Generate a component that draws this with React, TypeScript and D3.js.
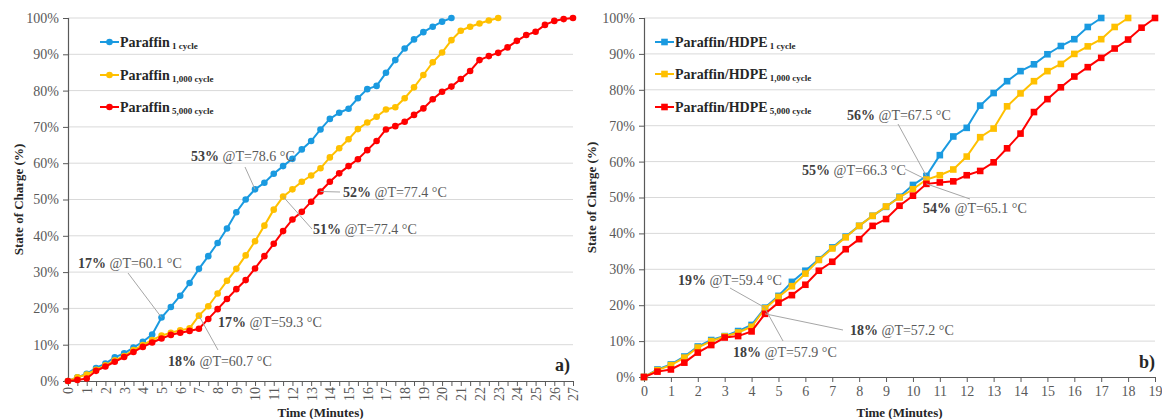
import React, { useEffect, useRef } from 'react';
import * as d3 from 'd3';

// minutes between two readings (category axis step)
const STEP = 0.5;

// ---- panel a) paraffin, state of charge (%) every 0.5 min ----
const paraffin1: number[] = [
  0, 1.0, 2.0, 3.6, 4.8, 6.5, 7.6, 9.2, 10.8, 12.8, 17.5, 20.4, 23.5, 27.0, 30.9, 34.4, 38.0, 42.0,
  46.5, 50.0, 52.8, 54.6, 57.1, 59.2, 61.2, 63.8, 66.1, 69.3, 72.2, 73.9, 75.0, 77.9, 80.4, 81.3,
  84.9, 88.4, 91.6, 94.1, 96.1, 97.6, 99.0, 100
];
const paraffin1000: number[] = [
  0, 1.0, 1.8, 3.1, 4.3, 5.7, 6.9, 8.5, 9.9, 11.3, 12.5, 13.3, 14.0, 14.5, 18.0, 20.6, 24.1, 27.6,
  30.9, 34.6, 38.5, 42.8, 47.2, 50.8, 52.8, 54.9, 56.6, 58.6, 61.6, 64.1, 66.6, 69.4, 71.2, 72.8,
  74.8, 75.4, 77.9, 80.9, 84.3, 87.8, 90.5, 93.9, 96.5, 97.6, 98.5, 99.3, 100
];
const paraffin5000: number[] = [
  0, 0.3, 0.7, 2.8, 4.0, 5.3, 6.6, 8.0, 9.4, 10.6, 11.7, 12.7, 13.3, 13.8, 14.4, 17.1, 19.8, 22.6,
  25.3, 27.8, 31.0, 34.4, 37.8, 41.3, 44.5, 46.6, 49.4, 52.2, 54.9, 57.2, 59.2, 61.1, 63.6, 66.1,
  69.3, 70.2, 71.4, 73.3, 75.1, 77.6, 79.7, 81.1, 83.2, 85.4, 88.4, 89.5, 90.4, 91.9, 93.7, 95.3,
  96.2, 98.1, 99.2, 99.7, 100
];

// ---- panel b) paraffin/HDPE ----
const hdpe1: number[] = [
  0, 2.1, 3.5, 5.7, 8.5, 10.3, 11.4, 12.8, 14.5, 19.3, 22.6, 26.5, 29.6, 32.8, 36.1, 39.1, 42.1,
  44.9, 47.4, 50.2, 53.5, 56.0, 61.8, 67.0, 69.4, 75.6, 79.1, 82.4, 85.2, 87.1, 89.9, 92.2, 94.1,
  97.5, 100
];
const hdpe1000: number[] = [
  0, 1.9, 3.3, 5.4, 8.2, 10.0, 11.3, 12.4, 14.0, 19.1, 22.3, 25.3, 28.8, 32.6, 35.8, 38.9, 42.1,
  44.9, 47.5, 50.0, 52.3, 55.0, 56.2, 57.8, 61.4, 66.8, 69.2, 75.4, 79.0, 82.4, 85.2, 87.2, 90.0,
  92.1, 94.1, 97.5, 100
];
const hdpe5000: number[] = [
  0, 1.5, 2.1, 4.0, 6.8, 8.9, 11.0, 11.4, 12.7, 17.6, 20.7, 22.8, 25.7, 29.6, 32.1, 35.6, 38.4,
  42.1, 44.0, 47.7, 50.5, 53.8, 54.2, 54.5, 56.2, 57.4, 59.8, 63.7, 67.8, 73.8, 77.4, 80.7, 83.7,
  86.3, 88.9, 91.5, 94.0, 97.3, 100
];

const cycleLabels = ['1 cycle', '1,000 cycle', '5,000 cycle'];
const yTicks = [0, 10, 20, 30, 40, 50, 60, 70, 80, 90, 100];

// annotations: [series index, point index, bold part, rest]
const annotationsA: [number, number, string, string][] = [
  [0, 20, '53%', ' @T=78.6 °C'],
  [2, 27, '52%', ' @T=77.4 °C'],
  [1, 23, '51%', ' @T=77.4 °C'],
  [0, 10, '17%', ' @T=60.1 °C'],
  [2, 14, '17%', ' @T=59.3 °C'],
  [1, 14, '18%', ' @T=60.7 °C']
];
const annotationsB: [number, number, string, string][] = [
  [0, 21, '56%', ' @T=67.5 °C'],
  [1, 21, '55%', ' @T=66.3 °C'],
  [2, 21, '54%', ' @T=65.1 °C'],
  [0, 9, '19%', ' @T=59.4 °C'],
  [2, 9, '18%', ' @T=57.2 °C'],
  [1, 9, '18%', ' @T=57.9 °C']
];

const COLORS = ['#1a9ae0', '#ffc000', '#ff0000'];
const FONT = '"Liberation Serif", "Times New Roman", serif';
const AXIS = '#595959';

interface PanelCfg {
  name: string;
  series: number[][];
  x0: number;
  x1: number;
  yTop: number;
  yBottom: number;
  xMax: number;
  rotated: boolean;
  square: boolean;
  legendX: number;
  legendY: number[];
  annotations: [number, number, string, string][];
  // label text start (x, baseline) and leader start, per annotation
  labelPos: ([number, number, number, number] | [number, number])[];
  tag: string;
  tagPos: [number, number];
  yTitleX: number;
}

const panels: PanelCfg[] = [
  {
    name: 'Paraffin',
    series: [paraffin1, paraffin1000, paraffin5000],
    x0: 68, x1: 573, yTop: 18, yBottom: 381, xMax: 27,
    rotated: true, square: false,
    legendX: 100, legendY: [42, 75, 107],
    annotations: annotationsA,
    labelPos: [
      [191, 161, 245, 167],
      [343, 197, 340, 192],
      [313, 234, 312, 229],
      [78, 268, 128, 273],
      [218, 327],
      [168, 366, 218, 350]
    ],
    tag: 'a)', tagPos: [555, 371], yTitleX: 18
  },
  {
    name: 'Paraffin/HDPE',
    series: [hdpe1, hdpe1000, hdpe5000],
    x0: 644, x1: 1155, yTop: 18, yBottom: 377, xMax: 19,
    rotated: false, square: true,
    legendX: 655, legendY: [42, 74, 107],
    annotations: annotationsB,
    labelPos: [
      [847, 120, 898, 124],
      [802, 175, 905, 169],
      [923, 213, 970, 199],
      [678, 285, 730, 288],
      [850, 335, 843, 330],
      [733, 357, 783, 341]
    ],
    tag: 'b)', tagPos: [1139, 368], yTitleX: 591
  }
];

export default function App() {
  const svgRef = useRef<SVGSVGElement>(null);

  useEffect(() => {
    if (!svgRef.current) return;
    const svg = d3.select(svgRef.current);
    svg.selectAll('*').remove();
    svg.style('font-family', FONT);

    panels.forEach(p => {
      const x = d3.scaleLinear().domain([0, p.xMax]).range([p.x0, p.x1]);
      const y = d3.scaleLinear().domain([0, 100]).range([p.yBottom, p.yTop]);
      const g = svg.append('g');

      // gridlines
      g.selectAll('.grid')
        .data(yTicks.filter(d => d > 0))
        .enter()
        .append('line')
        .attr('x1', p.x0)
        .attr('x2', p.x1)
        .attr('y1', d => y(d))
        .attr('y2', d => y(d))
        .attr('stroke', '#d9d9d9')
        .attr('stroke-width', 1);

      // y axis
      const yAxis = g.append('g')
        .attr('transform', `translate(${p.x0},0)`)
        .call(d3.axisLeft(y).tickValues(yTicks).tickSize(5).tickPadding(4).tickFormat(d => `${d}%`));
      yAxis.select('.domain').attr('stroke', AXIS).attr('stroke-width', 1.2);
      yAxis.selectAll('.tick line').attr('stroke', AXIS);
      yAxis.selectAll('text')
        .attr('fill', AXIS)
        .style('font-size', '14px')
        .style('font-family', FONT);

      // x axis
      const xTickVals = p.rotated ? d3.range(0, p.xMax + STEP / 2, STEP) : d3.range(0, p.xMax + 1, 1);
      const xAxis = g.append('g')
        .attr('transform', `translate(0,${p.yBottom})`)
        .call(d3.axisBottom(x).tickValues(xTickVals).tickSize(5).tickSizeOuter(0)
          .tickFormat(d => (Number.isInteger(+d) ? `${d}` : '')));
      xAxis.select('.domain').attr('stroke', AXIS).attr('stroke-width', 1.2);
      xAxis.selectAll('.tick line').attr('stroke', AXIS);
      const xt = xAxis.selectAll('text')
        .attr('fill', AXIS)
        .style('font-size', '14px')
        .style('font-family', FONT);
      if (p.rotated) {
        xt.attr('transform', 'rotate(-90)')
          .attr('x', -6)
          .attr('y', 0)
          .attr('dy', '0.35em')
          .style('text-anchor', 'end');
      } else {
        xt.attr('y', 9);
      }

      // series
      const line = d3.line<number>()
        .x((_, i) => x(i * STEP))
        .y(d => y(d));

      p.series.forEach((vals, si) => {
        g.append('path')
          .datum(vals)
          .attr('d', line)
          .attr('fill', 'none')
          .attr('stroke', COLORS[si])
          .attr('stroke-width', 2);
        if (p.square) {
          g.selectAll(`.m${si}`)
            .data(vals)
            .enter()
            .append('rect')
            .attr('x', (_, i) => x(i * STEP) - 3.3)
            .attr('y', d => y(d) - 3.3)
            .attr('width', 6.6)
            .attr('height', 6.6)
            .attr('fill', COLORS[si]);
        } else {
          g.selectAll(`.m${si}`)
            .data(vals)
            .enter()
            .append('circle')
            .attr('cx', (_, i) => x(i * STEP))
            .attr('cy', d => y(d))
            .attr('r', 3.3)
            .attr('fill', COLORS[si]);
        }
      });

      // annotations
      p.annotations.forEach(([si, idx, bold, rest], k) => {
        const pos = p.labelPos[k];
        if (pos.length === 4) {
          g.append('line')
            .attr('x1', pos[2])
            .attr('y1', pos[3])
            .attr('x2', x(idx * STEP))
            .attr('y2', y(p.series[si][idx]))
            .attr('stroke', '#a6a6a6')
            .attr('stroke-width', 1);
        }
        const t = g.append('text')
          .attr('x', pos[0])
          .attr('y', pos[1])
          .style('font-size', '14px');
        t.append('tspan').attr('font-weight', 'bold').attr('fill', '#404040').text(bold);
        t.append('tspan').attr('fill', '#595959').text(rest);
      });

      // legend
      p.legendY.forEach((ly, si) => {
        const lx = p.legendX;
        g.append('line')
          .attr('x1', lx).attr('x2', lx + 19)
          .attr('y1', ly).attr('y2', ly)
          .attr('stroke', COLORS[si]).attr('stroke-width', 2);
        if (p.square) {
          g.append('rect')
            .attr('x', lx + 6.2).attr('y', ly - 3.3)
            .attr('width', 6.6).attr('height', 6.6)
            .attr('fill', COLORS[si]);
        } else {
          g.append('circle')
            .attr('cx', lx + 9.5).attr('cy', ly).attr('r', 3.3)
            .attr('fill', COLORS[si]);
        }
        const t = g.append('text')
          .attr('x', lx + 20)
          .attr('y', ly + 5)
          .attr('fill', '#262626')
          .attr('font-weight', 'bold');
        t.append('tspan').style('font-size', '14px').text(p.name);
        t.append('tspan').style('font-size', '9px').attr('dy', 2).text(` ${cycleLabels[si]}`);
      });

      // panel tag
      g.append('text')
        .attr('x', p.tagPos[0])
        .attr('y', p.tagPos[1])
        .attr('font-weight', 'bold')
        .attr('fill', '#262626')
        .style('font-size', '18px')
        .text(p.tag);

      // axis titles
      g.append('text')
        .attr('x', (p.x0 + p.x1) / 2)
        .attr('y', 417)
        .attr('text-anchor', 'middle')
        .attr('font-weight', 'bold')
        .attr('fill', '#262626')
        .style('font-size', '13px')
        .text('Time (Minutes)');
      g.append('text')
        .attr('transform', `translate(${p.yTitleX},${(p.yTop + p.yBottom) / 2}) rotate(-90)`)
        .attr('text-anchor', 'middle')
        .attr('dy', '0.35em')
        .attr('font-weight', 'bold')
        .attr('fill', '#262626')
        .style('font-size', '13px')
        .text('State of Charge (%)');
    });
  }, []);

  return (
    <div style={{ position: 'fixed', left: 0, top: 0, background: '#fff' }}>
      <svg ref={svgRef} width={1162} height={419} />
    </div>
  );
}
